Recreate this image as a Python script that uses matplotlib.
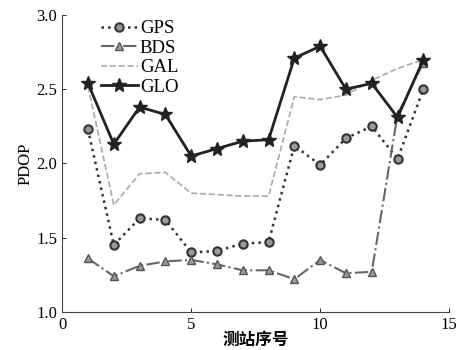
import matplotlib
matplotlib.use("Agg")
import matplotlib.pyplot as plt

stations = list(range(1, 15))
gps = [2.23, 1.45, 1.63, 1.62, 1.40, 1.41, 1.46, 1.47, 2.12, 1.99, 2.17, 2.25, 2.03, 2.50]
bds = [1.36, 1.24, 1.31, 1.34, 1.35, 1.32, 1.28, 1.28, 1.22, 1.35, 1.26, 1.27, 2.33, 2.68]
gal = [2.52, 1.72, 1.93, 1.94, 1.80, 1.79, 1.78, 1.78, 2.45, 2.43, 2.46, 2.56, 2.64, 2.70]
glo = [2.54, 2.13, 2.38, 2.33, 2.05, 2.10, 2.15, 2.16, 2.71, 2.79, 2.50, 2.54, 2.31, 2.70]
xticks = [0, 5, 10, 15]
yticks = [1.0, 1.5, 2.0, 2.5, 3.0]

plt.rcParams['font.family'] = ['Liberation Serif', 'DejaVu Serif']
fig = plt.figure(figsize=(4.64, 3.5), dpi=100)
ax = fig.add_axes([0.134, 0.109, 0.834, 0.848])

ax.plot(stations, gps, linestyle=':', color='#333333', lw=1.8, marker='o', ms=6,
        mfc='#999999', mec='#333333', mew=1.5, label='GPS')
ax.plot(stations, bds, linestyle='-.', color='#666666', lw=1.5, marker='^', ms=6,
        mfc='#999999', mec='#555555', mew=1, label='BDS')
ax.plot(stations, gal, linestyle='--', color='#aaaaaa', lw=1.2, label='GAL')
ax.plot(stations, glo, linestyle='-', color='#222222', lw=2, marker='*', ms=10,
        mfc='#222222', mec='#222222', label='GLO')

ax.set_xlim(0, 15)
ax.set_ylim(1.0, 3.0)
ax.set_xticks(xticks)
ax.set_yticks(yticks)
ax.set_yticklabels([f"{v:.1f}" for v in yticks])
ax.tick_params(direction='in', labelsize=12, length=3, width=0.6)
for s in ['top', 'right']:
    ax.spines[s].set_visible(False)
for s in ['left', 'bottom']:
    ax.spines[s].set_linewidth(0.8)
    ax.spines[s].set_color('#444444')

ax.set_ylabel('PDOP', fontsize=12, labelpad=2)
ax.set_xlabel('测站序号', fontsize=12, fontweight='bold',
              family=['Noto Sans CJK SC', 'DejaVu Sans'], labelpad=-1)

ax.legend(loc='upper left', bbox_to_anchor=(0.07, 1.02), frameon=False,
          fontsize=13.5, handlelength=2.0, labelspacing=0.12, handletextpad=0.1,
          borderaxespad=0.2)

fig.savefig('out.png', dpi=100)
